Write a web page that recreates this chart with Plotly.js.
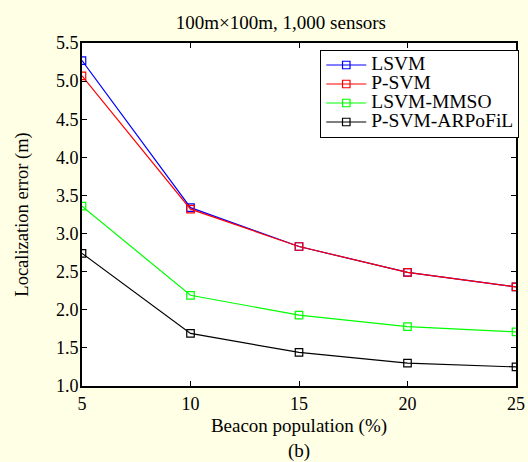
<!DOCTYPE html>
<html>
<head>
<meta charset="utf-8">
<script src="https://cdn.plot.ly/plotly-3.0.1.min.js"></script>
<style>html,body{margin:0;padding:0;background:#FFFFE5;}</style>
</head>
<body>
<div id="chart" style="width:528px;height:462px;"></div>
<script>
const beaconPct = [5, 10, 15, 20, 25];
const lsvm = [5.27, 3.34, 2.83, 2.49, 2.30];
const psvm = [5.07, 3.32, 2.83, 2.49, 2.30];
const lsvmMmso = [3.36, 2.19, 1.93, 1.78, 1.71];
const psvmArpofil = [2.74, 1.69, 1.44, 1.30, 1.25];
const seriesNames = ['LSVM', 'P-SVM', 'LSVM-MMSO', 'P-SVM-ARPoFiL'];
const yTicks = [1.0, 1.5, 2.0, 2.5, 3.0, 3.5, 4.0, 4.5, 5.0, 5.5];
const xTicks = [5, 10, 15, 20, 25];

const FONT = 'Liberation Serif, Times New Roman, serif';
const colors = ['#0000FF', '#FF0000', '#00FF00', '#000000'];
const values = [lsvm, psvm, lsvmMmso, psvmArpofil];

const traces = values.map((v, i) => ({
  x: beaconPct,
  y: v,
  type: 'scatter',
  mode: 'lines+markers',
  name: '<span style="font-size:19.5px">' + seriesNames[i] + '</span>',
  line: {color: colors[i], width: 1.2},
  marker: {symbol: 'square-open', size: 7.5, color: colors[i], line: {width: 1.2, color: colors[i]}}
}));

const layout = {
  width: 528, height: 462,
  margin: {l: 82, r: 9, t: 43, b: 76},
  paper_bgcolor: '#FFFFE5',
  plot_bgcolor: '#FFFFFF',
  font: {family: FONT, color: '#000', size: 18},
  title: {text: '100m×100m, 1,000 sensors', font: {family: FONT, size: 19, color: '#000'},
          x: 0.532, xref: 'container', xanchor: 'center', y: 0.952, yref: 'container', yanchor: 'middle'},
  xaxis: {
    range: [5, 25], tickvals: xTicks, ticktext: xTicks.map(String),
    showline: true, linecolor: '#000', linewidth: 2, mirror: 'ticks',
    ticks: 'inside', ticklen: 5, tickwidth: 1, tickcolor: '#000',
    showgrid: false, zeroline: false,
    tickfont: {family: FONT, size: 18, color: '#000'},
    title: {text: 'Beacon population (%)<br>(b)', font: {family: FONT, size: 19, color: '#000'}, standoff: 11}
  },
  yaxis: {
    range: [1, 5.5], tickvals: yTicks, ticktext: yTicks.map(v => v.toFixed(1)),
    showline: true, linecolor: '#000', linewidth: 2, mirror: 'ticks',
    ticks: 'inside', ticklen: 5, tickwidth: 1, tickcolor: '#000',
    showgrid: false, zeroline: false,
    tickfont: {family: FONT, size: 18, color: '#000'},
    ticklabelstandoff: -2,
    title: {text: 'Localization error (m)', font: {family: FONT, size: 18.5, color: '#000'}, standoff: 22}
  },
  showlegend: true,
  legend: {
    x: 0.549, y: 0.981, xanchor: 'left', yanchor: 'top',
    bgcolor: '#FFFFFF', bordercolor: '#000', borderwidth: 1,
    font: {family: FONT, size: 12.3, color: '#000'},
    itemwidth: 40, tracegroupgap: 0
  }
};

Plotly.newPlot('chart', traces, layout, {displayModeBar: false, staticPlot: true});
</script>
</body>
</html>
